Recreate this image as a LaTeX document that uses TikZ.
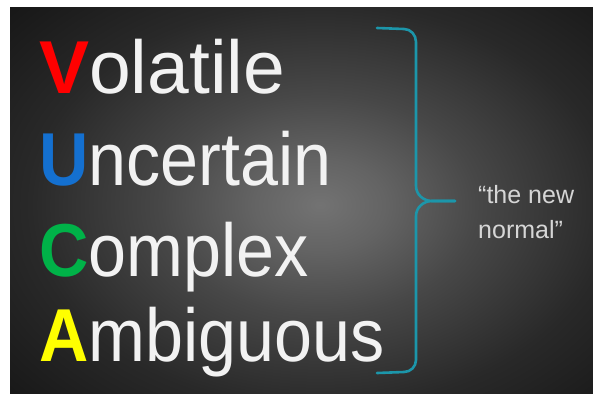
\documentclass[tikz,border=0pt]{standalone}
\usepackage{fontspec}
\setmainfont{Liberation Sans}
\usetikzlibrary{positioning}

\definecolor{vred}{RGB}{255,0,0}
\definecolor{ublue}{RGB}{20,112,208}
\definecolor{cgreen}{RGB}{0,178,72}
\definecolor{ayellow}{RGB}{255,255,0}
\definecolor{bracecol}{RGB}{28,150,170}

\pgfdeclareradialshading{vignette}{\pgfpoint{0bp}{0bp}}{%
  color(0bp)=(black!55); color(5bp)=(black!61); color(12bp)=(black!72);
  color(22bp)=(black!84); color(32bp)=(black!91); color(42bp)=(black!95);
  color(50bp)=(black!97)}

% first letter of each word
\newcommand{\initial}[2]{{\bfseries\color{#1}#2}}

\tikzset{
	word/.style={text=white!95!black, font=\fontsize{75}{75}\selectfont,
		inner sep=0pt, anchor=base west},
	narrow/.style={xscale=0.91, transform shape},
	bracepath/.style={draw=bracecol, line width=2.6pt, line cap=round,
		line join=round},
	tagline/.style={text=white!84!black, font=\fontsize{25}{35}\selectfont,
		inner sep=0pt, align=left, anchor=base west}
}

\begin{document}
\begin{tikzpicture}[x=1pt, y=-1pt]
	\useasboundingbox (0,0) rectangle (593,393);
	\fill[white] (0,0) rectangle (593,393);
	\begin{scope}
		\clip (10,8) rectangle (593,393);
		\shade[shading=vignette] (-10,-25) rectangle (650,435);
	\end{scope}

	\node[word] (vola) at (39,93) {\initial{vred}{V}olatile};
	\node[word, narrow, below=92pt of vola.base west, anchor=base west] (unce) {\initial{ublue}{U}ncertain};
	\node[word, narrow, below=91pt of unce.base west, anchor=base west] (comp) {\initial{cgreen}{C}omplex};
	\node[word, narrow, below=85pt of comp.base west, anchor=base west] (ambi) {\initial{ayellow}{A}mbiguous};

	% the brace
	\coordinate (btop) at (377,28);
	\coordinate (btip) at (455,201);
	\coordinate (bbot) at (377,373);
	\draw[bracepath] (btop) -- (404,29) to[out=0,in=90] (416,42) -- (416,186)
		to[out=-90,in=180] (432,201) -- (btip);
	\draw[bracepath] (btip) -- (432,201) to[out=180,in=90] (416,216) -- (416,360)
		to[out=-90,in=0] (404,372) -- (bbot);

	\node[tagline] (newnormal) at (478,238) {“the new\\normal”};
\end{tikzpicture}
\end{document}
